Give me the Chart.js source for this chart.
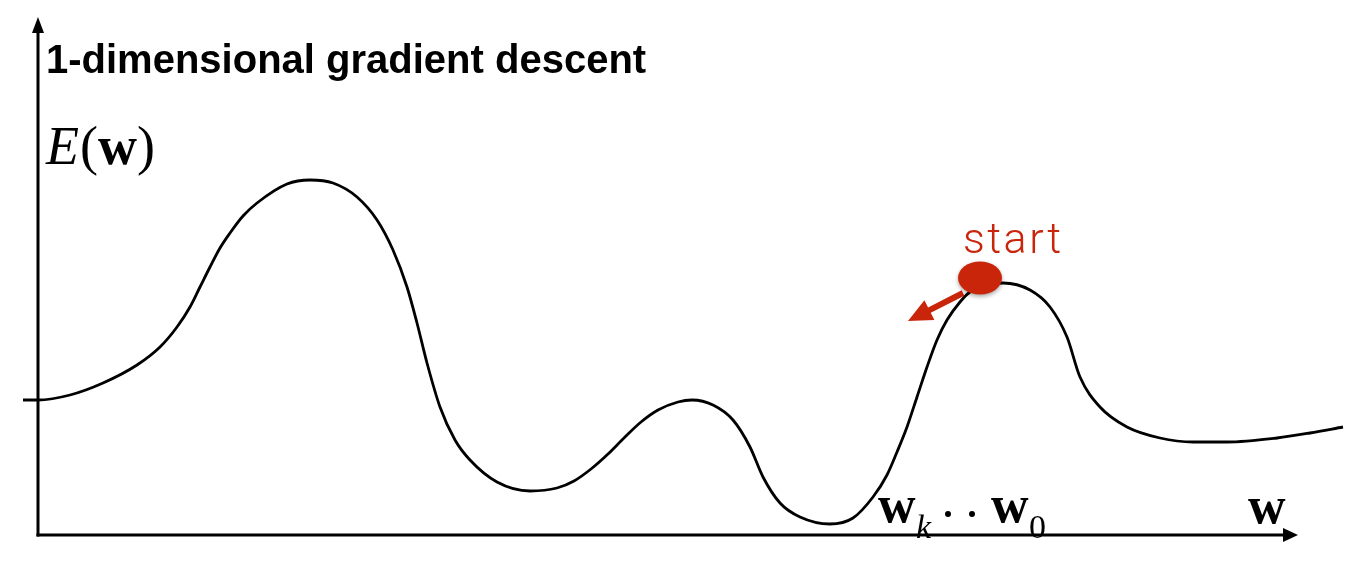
<!DOCTYPE html>
<html>
<head>
<meta charset="utf-8">
<script src="https://cdn.jsdelivr.net/npm/chart.js@4.4.1/dist/chart.umd.min.js"></script>
<style>
  html, body { margin: 0; padding: 0; background: #fff; }
  #wrap { width: 1356px; height: 575px; }
</style>
</head>
<body>
<div id="wrap"><canvas id="descentChart" width="1356" height="575"></canvas></div>
<script>
// error curve (w along the axis, E(w) upwards)
const wValues = [-0.15, 0, 0.32, 0.65, 0.99, 1.22, 1.39, 1.52, 1.62, 1.72, 1.82, 1.92, 2.05, 2.19, 2.49, 2.72,
  2.95, 3.19, 3.39, 3.55, 3.69, 3.79, 3.89, 4.02, 4.17, 4.32, 4.59, 4.92, 5.19, 5.36, 5.53, 5.70, 5.86,
  6.03, 6.20, 6.40, 6.54, 6.75, 6.95, 7.12, 7.25, 7.42, 7.62, 7.92, 8.15, 8.35, 8.49, 8.59, 8.69, 8.79,
  8.89, 8.99, 9.09, 9.22, 9.32, 9.65, 9.92, 10.12, 10.29, 10.42, 10.62, 10.89, 11.22, 11.55, 11.89,
  12.39, 12.72, 13.05];
const eValues = [1.35, 1.35, 1.40, 1.52, 1.70, 1.88, 2.08, 2.28, 2.48, 2.68, 2.87, 3.02, 3.19, 3.32, 3.51, 3.55,
  3.52, 3.38, 3.15, 2.85, 2.48, 2.12, 1.72, 1.28, 0.95, 0.75, 0.53, 0.44, 0.47, 0.54, 0.66, 0.81, 0.97,
  1.13, 1.25, 1.33, 1.35, 1.30, 1.15, 0.88, 0.58, 0.32, 0.18, 0.11, 0.17, 0.38, 0.60, 0.83, 1.08, 1.38,
  1.68, 1.95, 2.15, 2.33, 2.43, 2.52, 2.45, 2.28, 1.98, 1.58, 1.28, 1.08, 0.97, 0.93, 0.93,
  0.97, 1.02, 1.08];

// where the descent starts and where the first step points
const startPoint = { w: 9.42, e: 2.57 };
const stepTip = { w: 8.70, e: 2.14 };

// how far the two axes run
const axisWEnd = 12.6;
const axisEEnd = 5.18;

const red = '#c9250b';

function arrow(ctx, x0, y0, x1, y1, headLen, headHalf, width, color) {
    const a = Math.atan2(y1 - y0, x1 - x0);
    const bx = x1 - Math.cos(a) * headLen, by = y1 - Math.sin(a) * headLen;
    ctx.strokeStyle = color;
    ctx.fillStyle = color;
    ctx.lineWidth = width;
    ctx.beginPath();
    ctx.moveTo(x0, y0);
    ctx.lineTo(bx + Math.cos(a), by + Math.sin(a));
    ctx.stroke();
    ctx.beginPath();
    ctx.moveTo(x1, y1);
    ctx.lineTo(bx - Math.sin(a) * headHalf, by + Math.cos(a) * headHalf);
    ctx.lineTo(bx + Math.sin(a) * headHalf, by - Math.cos(a) * headHalf);
    ctx.closePath();
    ctx.fill();
}

function piece(ctx, font, text, x, y) {
    ctx.font = font;
    ctx.fillText(text, x, y);
    return x + ctx.measureText(text).width;
}

const sketchPlugin = {
    id: 'sketch',
    beforeDatasetsDraw(chart) {
        const { ctx, scales: { x, y } } = chart;
        const ox = x.getPixelForValue(0), oy = y.getPixelForValue(0);
        ctx.save();
        ctx.lineCap = 'butt';
        arrow(ctx, ox, oy + 1.5, ox, y.getPixelForValue(axisEEnd), 16, 6, 3, '#000');
        arrow(ctx, ox - 1.5, oy, x.getPixelForValue(axisWEnd), oy, 15, 7, 3, '#000');
        ctx.restore();
    },
    afterDatasetsDraw(chart) {
        const { ctx, scales: { x, y } } = chart;
        ctx.save();
        ctx.fillStyle = '#000';
        ctx.textBaseline = 'alphabetic';

        // title
        piece(ctx, 'bold 40px "Liberation Sans"', '1-dimensional gradient descent', x.getPixelForValue(0.08), y.getPixelForValue(4.62));

        // E(w)
        let px = x.getPixelForValue(0.08), py = y.getPixelForValue(3.71);
        px = piece(ctx, 'italic 54px "Liberation Serif"', 'E', px, py);
        px = piece(ctx, '54px "Liberation Serif"', '(', px + 1, py);
        px = piece(ctx, 'bold 54px "Liberation Serif"', 'w', px, py);
        piece(ctx, '54px "Liberation Serif"', ')', px, py);

        // w_k . . w_0
        px = x.getPixelForValue(8.40); py = y.getPixelForValue(0.13);
        piece(ctx, 'bold 52px "Liberation Serif"', 'w', px, py);
        piece(ctx, 'italic 34px "Liberation Serif"', 'k', px + 38, py + 16);
        ctx.beginPath();
        ctx.arc(px + 70, py - 8, 3, 0, Math.PI * 2);
        ctx.arc(px + 94, py - 8, 3, 0, Math.PI * 2);
        ctx.fill();
        piece(ctx, 'bold 52px "Liberation Serif"', 'w', px + 113, py);
        piece(ctx, '34px "Liberation Serif"', '0', px + 151, py + 16);

        // w at the end of the axis
        piece(ctx, 'bold 52px "Liberation Serif"', 'w', x.getPixelForValue(12.10), y.getPixelForValue(0.12));

        // start marker
        const sx = x.getPixelForValue(startPoint.w), sy = y.getPixelForValue(startPoint.e);
        arrow(ctx, sx - 17, sy + 15, x.getPixelForValue(stepTip.w), y.getPixelForValue(stepTip.e), 24, 11, 6, red);
        ctx.save();
        ctx.shadowColor = 'rgba(0,0,0,0.35)';
        ctx.shadowBlur = 4;
        ctx.shadowOffsetY = 2;
        ctx.fillStyle = red;
        ctx.beginPath();
        ctx.ellipse(sx, sy, 22, 16.5, 0, 0, Math.PI * 2);
        ctx.fill();
        ctx.restore();

        ctx.fillStyle = red;
        ctx.font = '300 43px Roboto';
        const plain = ctx.measureText('start').width;
        ctx.letterSpacing = Math.max(0, (98 - plain) / 4) + 'px';
        ctx.fillText('start', x.getPixelForValue(9.25), y.getPixelForValue(2.82));
        ctx.restore();
    }
};

new Chart(document.getElementById('descentChart'), {
    type: 'line',
    data: {
        datasets: [
            {
                label: 'E(w)',
                data: wValues.map((w, i) => ({ x: w, y: eValues[i] })),
                borderColor: '#000',
                borderWidth: 2.8,
                pointRadius: 0,
                fill: false,
                cubicInterpolationMode: 'monotone'
            }
        ]
    },
    options: {
        responsive: false,
        animation: false,
        events: [],
        layout: { padding: 0, autoPadding: false },
        plugins: { legend: { display: false }, tooltip: { enabled: false } },
        scales: {
            x: { type: 'linear', display: false, min: -0.38, max: 13.18 },
            y: { type: 'linear', display: false, min: -0.40, max: 5.35 }
        }
    },
    plugins: [sketchPlugin]
});
</script>
</body>
</html>
